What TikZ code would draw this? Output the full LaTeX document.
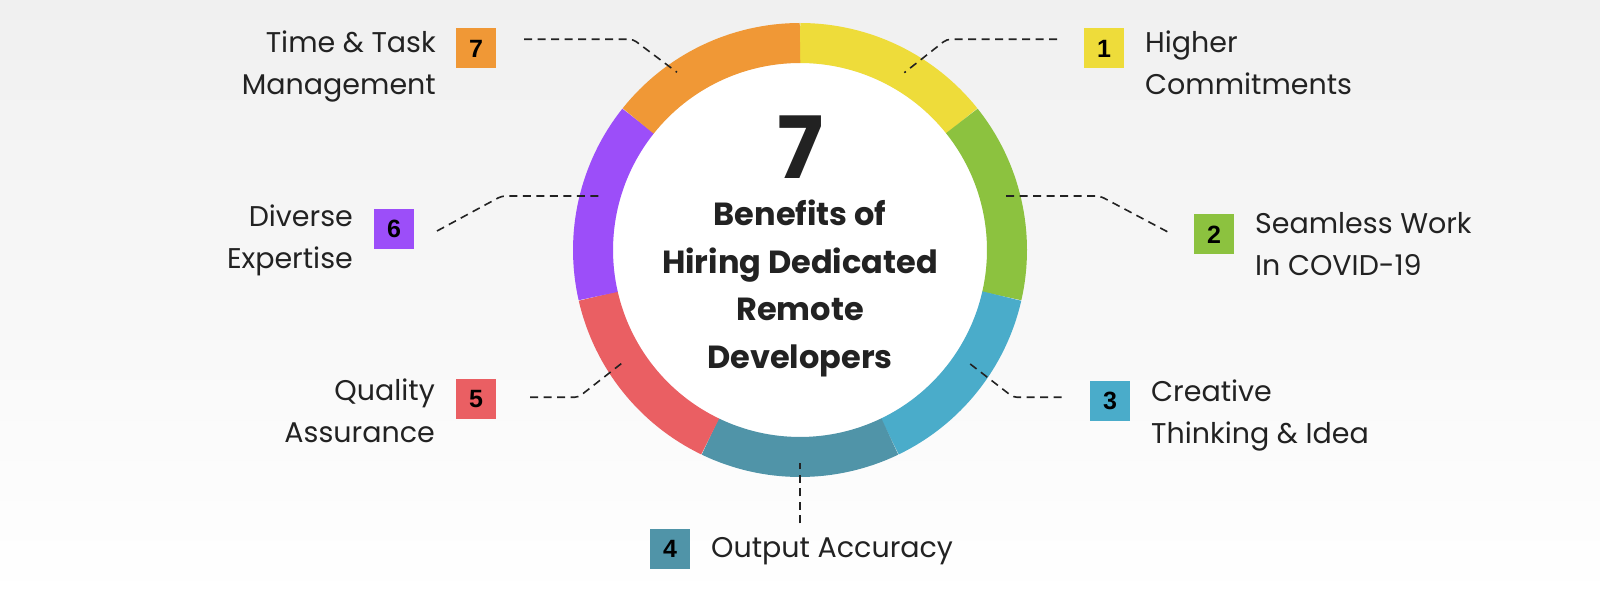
\documentclass[tikz,border=0pt]{standalone}
\usepackage{fontspec}
\setmainfont{Poppins}
\newfontfamily\digitfont{Liberation Sans}
\definecolor{ink}{HTML}{222222}
\definecolor{bgGrey}{HTML}{F0F0F0}
\definecolor{segY}{HTML}{EEDC3A}
\definecolor{segG}{HTML}{8CC23F}
\definecolor{segB}{HTML}{4AACCA}
\definecolor{segT}{HTML}{5094A8}
\definecolor{segR}{HTML}{EA5F63}
\definecolor{segP}{HTML}{9C4EF9}
\definecolor{segO}{HTML}{F09836}
\tikzset{
  numbox/.style={minimum size=40pt,inner sep=0pt,text=black,
    font=\digitfont\bfseries\fontsize{25}{25}\selectfont},
  lbl/.style={inner sep=0pt,text=ink,font=\fontsize{28.5}{42}\selectfont},
  lead/.style={draw=ink,line width=1.6pt,dash pattern=on 8pt off 5.5pt,rounded corners=4pt}
}
\begin{document}
\begin{tikzpicture}[x=1pt,y=1pt]
  \useasboundingbox (0,0) rectangle (1600,600);
  \shade[top color=bgGrey,bottom color=white] (0,0) rectangle (1600,600);
  \coordinate (cen) at (800,350);
  \fill[white] (cen) circle (187);
  \foreach \c [count=\i] in {segY,segG,segB,segT,segR,segP,segO}
    \draw[color=\c,line width=40pt] (cen) ++({90-(\i-1)*360/7}:207)
      arc ({90-(\i-1)*360/7}:{90-\i*360/7}:207);
  \node[inner sep=0pt,text=ink,font=\bfseries\fontsize{86}{86}\selectfont,anchor=base] (big) at (800,421.7) {7};
  \node[inner sep=0pt,text=ink,align=center,font=\bfseries\fontsize{32}{47.5}\selectfont,anchor=base] (title) at (800,231.7)
    {Benefits of\\Hiring Dedicated\\Remote\\Developers};
  \node[numbox,fill=segY] (b1) at (1104,551.5) {1};
  \node[numbox,fill=segG] (b2) at (1214,365.7) {2};
  \node[numbox,fill=segB] (b3) at (1110,199) {3};
  \node[numbox,fill=segT] (b4) at (670,51.3) {4};
  \node[numbox,fill=segR] (b5) at (476,201) {5};
  \node[numbox,fill=segP] (b6) at (394,371.3) {6};
  \node[numbox,fill=segO] (b7) at (476,551.5) {7};
  \node[lbl,align=left,anchor=base west] (t1) at (1145,505.7) {Higher\\Commitments};
  \node[lbl,align=left,anchor=base west] (t2) at (1255,324) {Seamless Work\\In COVID-19};
  \node[lbl,align=left,anchor=base west] (t3) at (1151,156.7) {Creative\\Thinking \& Idea};
  \node[lbl,anchor=base west] (t4) at (711,42.3) {Output Accuracy};
  \node[lbl,align=right,anchor=base east] (t5) at (435,157.3) {Quality\\Assurance};
  \node[lbl,align=right,anchor=base east] (t6) at (353,331.7) {Diverse\\Expertise};
  \node[lbl,align=right,anchor=base east] (t7) at (436,505.7) {Time \& Task\\Management};
  \coordinate (c1a) at (1057,560.7); \coordinate (c1b) at (946.7,560.7); \coordinate (c1c) at (904.3,527.3);
  \coordinate (c2a) at (1167.3,368.3); \coordinate (c2b) at (1100,404); \coordinate (c2c) at (1002.7,404);
  \coordinate (c3a) at (1061.7,202.7); \coordinate (c3b) at (1013.3,202.7); \coordinate (c3c) at (969.3,236.7);
  \coordinate (c4a) at (800,76.7); \coordinate (c4b) at (800,136.7);
  \coordinate (c5a) at (530,202.7); \coordinate (c5b) at (578.3,202.7); \coordinate (c5c) at (621.7,236.7);
  \coordinate (c6a) at (437,369); \coordinate (c6b) at (501.7,404); \coordinate (c6c) at (600.7,404);
  \coordinate (c7a) at (524,560.7); \coordinate (c7b) at (633,560.7); \coordinate (c7c) at (677,527.7);
  \draw[lead] (c1a) -- (c1b) -- (c1c);
  \draw[lead] (c2a) -- (c2b) -- (c2c);
  \draw[lead] (c3a) -- (c3b) -- (c3c);
  \draw[lead] (c4a) -- (c4b);
  \draw[lead] (c5a) -- (c5b) -- (c5c);
  \draw[lead] (c6a) -- (c6b) -- (c6c);
  \draw[lead] (c7a) -- (c7b) -- (c7c);
\end{tikzpicture}
\end{document}
